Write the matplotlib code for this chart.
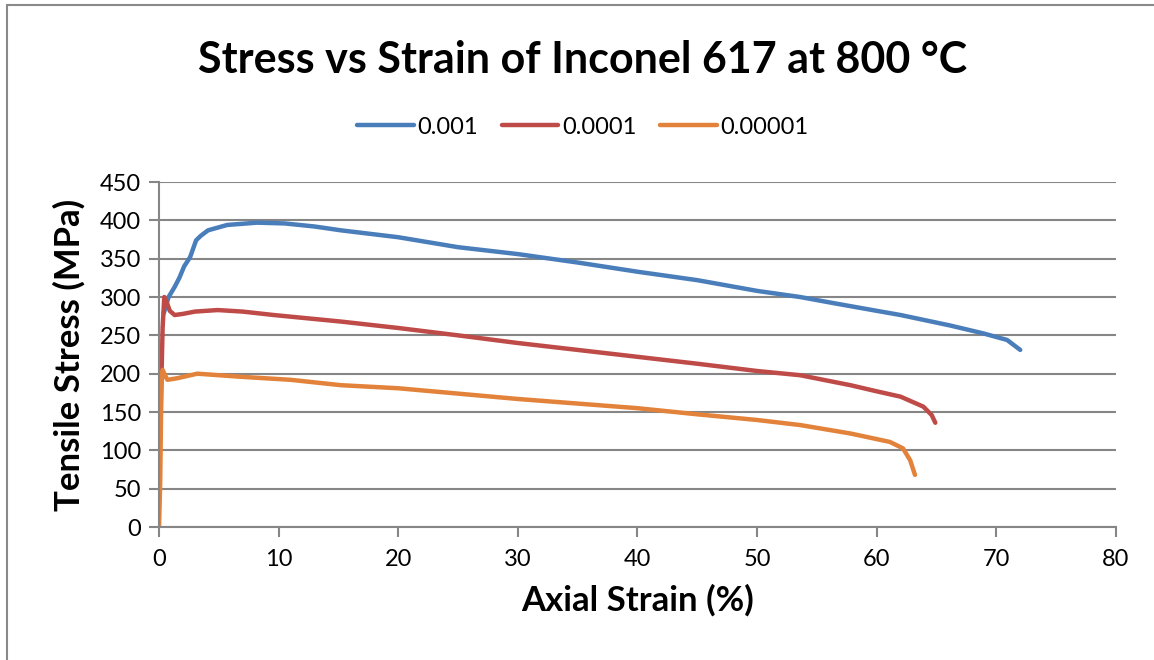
import matplotlib.pyplot as plt
from matplotlib.patches import Rectangle

# strain (%) / stress (MPa)
strain_001 = [0.4, 0.8, 1.3, 1.7, 2.1, 2.6, 3.1, 3.5, 4.1, 5.7, 8.2, 10.5, 13.0, 15.2, 20.0, 25.0, 30.0, 35.0, 40.0,
              45.0, 50.0, 53.6, 56.4, 60.0, 62.0, 66.1, 68.9, 70.9, 72.0]
stress_001 = [279, 300, 313, 325, 340, 352, 374, 380, 387, 394, 397, 396, 392, 387, 378, 365, 356, 345, 333,
              322, 308, 300, 292, 282, 276.5, 263, 252.6, 244, 231]

strain_0001 = [0.15, 0.22, 0.3, 0.44, 0.6, 0.9, 1.3, 2.0, 3.0, 4.9, 7.0, 9.6, 15.2, 20.0, 25.0, 30.0, 35.0, 40.0,
               45.0, 50.0, 53.6, 57.8, 60.0, 62.0, 63.9, 64.6, 64.9]
stress_0001 = [200, 205, 260, 300, 295, 282, 276.5, 278, 281, 283, 281, 276.5, 268, 259.6, 250, 240, 231, 222,
               213, 203.5, 198, 185, 177, 170, 157, 146, 136]

strain_00001 = [0.0, 0.1, 0.17, 0.25, 0.3, 0.5, 0.7, 1.5, 3.2, 6.8, 11.0, 15.2, 20.0, 25.0, 30.0, 35.0, 40.0, 45.0,
                50.0, 53.6, 57.8, 61.1, 62.2, 62.8, 63.2]
stress_00001 = [0, 60, 150, 200, 205, 198, 192, 194, 200, 196, 192, 185, 181, 174, 167, 161, 155, 147,
                139.6, 133, 122, 111, 102.6, 87, 68]

labels = ['0.001', '0.0001', '0.00001']
colors = ['#4A7EBB', '#BE4B48', '#E3823A']

plt.rcParams['font.family'] = ['Lato', 'DejaVu Sans']

fig = plt.figure(figsize=(11.54, 6.6), dpi=100)
ax = fig.add_axes([0.1378, 0.2015, 0.8292, 0.5227])

# chart area border (Excel style)
fig.patches.append(Rectangle((7 / 1154, -0.01), 1.2, 1 - 5 / 660 + 0.01, transform=fig.transFigure,
                             fill=False, edgecolor='#898989', linewidth=1.5))

ax.plot(strain_001, stress_001, color=colors[0], linewidth=3.2, label=labels[0], solid_capstyle='round')
ax.plot(strain_0001, stress_0001, color=colors[1], linewidth=3.2, label=labels[1], solid_capstyle='round')
ax.plot(strain_00001, stress_00001, color=colors[2], linewidth=3.2, label=labels[2], solid_capstyle='round')

ax.set_xlim(0, 80)
ax.set_ylim(0, 450)
ax.set_xticks(range(0, 81, 10))
ax.set_yticks(range(0, 451, 50))
ax.grid(axis='y', color='#868686', linewidth=1.5)
ax.set_axisbelow(True)
for s in ['top', 'right']:
    ax.spines[s].set_visible(False)
for s in ['left', 'bottom']:
    ax.spines[s].set_color('#868686')
    ax.spines[s].set_linewidth(1.5)
ax.tick_params(axis='x', direction='out', length=7, width=1.5, color='#868686', labelsize=17, pad=9)
ax.tick_params(axis='y', direction='out', length=7, width=1.5, color='#868686', labelsize=17, pad=6)

ax.set_xlabel('Axial Strain (%)', fontsize=25, fontweight='bold', labelpad=10)
ax.set_ylabel('Tensile Stress (MPa)', fontsize=25, fontweight='bold', labelpad=10)

fig.text(0.505, 1 - 60 / 660, 'Stress vs Strain of Inconel 617 at 800 °C', ha='center', va='center',
         fontsize=31, fontweight='bold')
fig.legend(loc='center', bbox_to_anchor=(0.505, 1 - 127 / 660), ncol=3, frameon=False, fontsize=17,
           handlelength=2.4, handletextpad=0.15, columnspacing=1.0)

fig.savefig('out.png', dpi=100)
